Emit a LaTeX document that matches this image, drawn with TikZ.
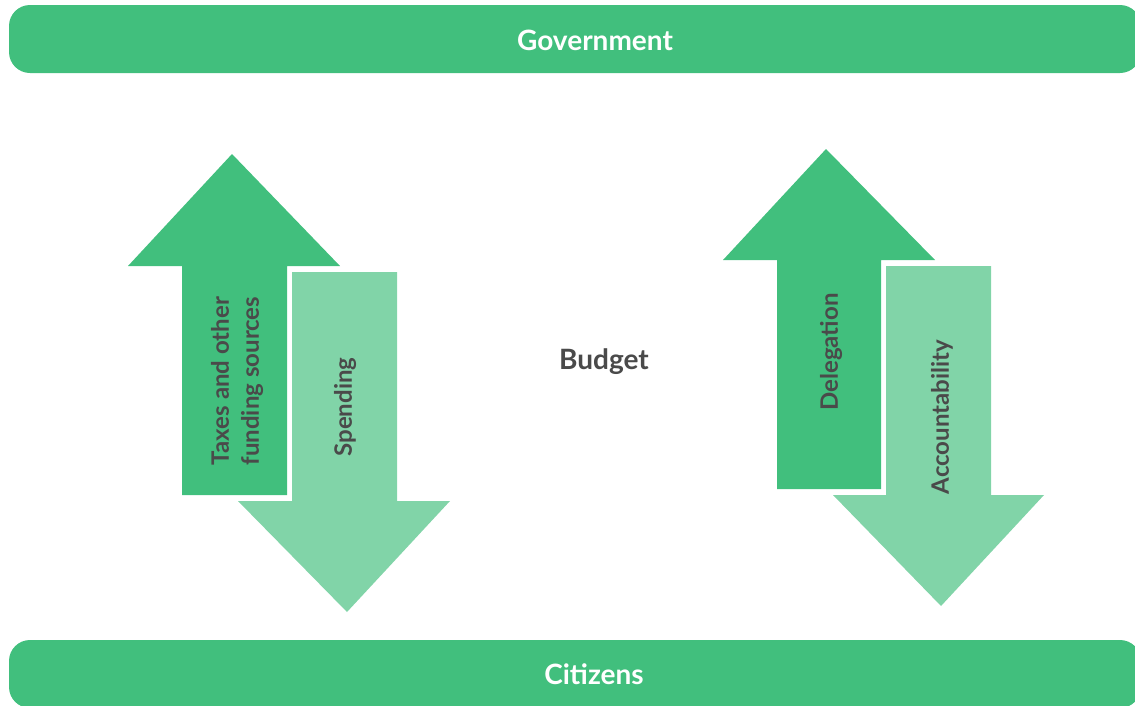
\documentclass[tikz,border=0pt]{standalone}
\usepackage{fontspec}
\setmainfont{Lato}

\definecolor{upgreen}{HTML}{41BF7D}
\definecolor{downgreen}{HTML}{81D4A8}
\definecolor{labelgrey}{HTML}{4A4A4A}

\begin{document}
\begin{tikzpicture}[x=1pt,y=-1pt,
    bar/.style={fill=upgreen, rounded corners=21pt, minimum width=1132pt,
        minimum height=68pt, inner sep=0pt},
    bartext/.style={text=white, font=\fontsize{28}{32}\selectfont\bfseries},
    flowlabel/.style={text=labelgrey, rotate=90, align=center, inner sep=0pt,
        font=\fontsize{24}{30}\selectfont\bfseries}]

        \useasboundingbox (0,0) rectangle (1135,705);

        % Bars
        \node[bar] (gov) at (575,39) {};
        \node[bartext] (govtext) at (595,40) {Government};
        \node[bar] (cit) at (575,674) {};
        \node[bartext] (cittext) at (594,674) {Citizens};

        % Left pair: up arrow
        \fill[upgreen] (182,495) -- (182,266) -- (128,266) -- (232,154)
            -- (340,266) -- (287,266) -- (287,495) -- cycle;

        % Left pair: down arrow
        \fill[downgreen] (292,272) -- (397,272) -- (397,501) -- (450,501)
            -- (347,612) -- (238,501) -- (292,501) -- cycle;

        % Right pair: up arrow
        \fill[upgreen] (777,489) -- (777,260) -- (723,260) -- (826,149)
            -- (935,260) -- (881,260) -- (881,489) -- cycle;

        % Right pair: down arrow
        \fill[downgreen] (886,266) -- (991,266) -- (991,495) -- (1044,495)
            -- (941,606) -- (833,495) -- (886,495) -- cycle;

        % Labels on the arrows
        \node[flowlabel] (taxes) at (237,381) {Taxes and other\\funding sources};
        \node[flowlabel] (spend) at (345,407) {Spending};
        \node[flowlabel] (deleg) at (831,352) {Delegation};
        \node[flowlabel] (account) at (942,417) {Accountability};

        % Middle
        \node[text=labelgrey, font=\fontsize{28}{32}\selectfont\bfseries]
            (budget) at (604,362) {Budget};

\end{tikzpicture}
\end{document}
